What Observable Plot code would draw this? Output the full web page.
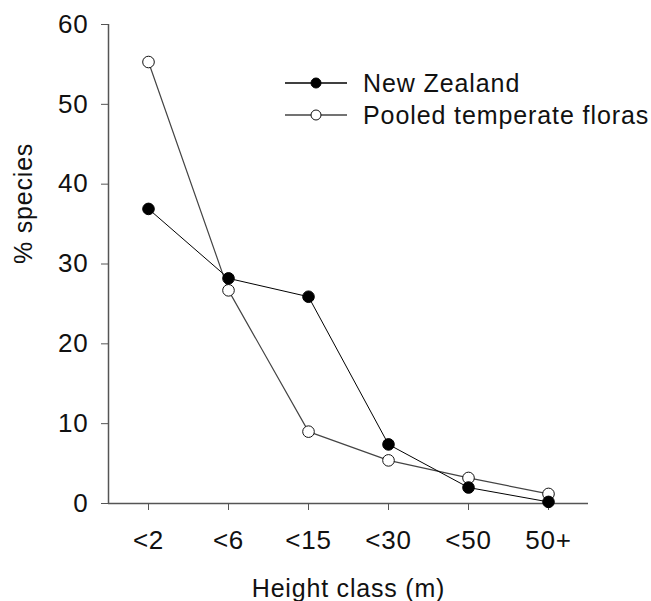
<!DOCTYPE html>
<html><head><meta charset="utf-8">
<script src="https://cdn.jsdelivr.net/npm/d3@7"></script>
<script src="https://cdn.jsdelivr.net/npm/@observablehq/plot@0.6"></script>
<style>
body{margin:0;background:#fff;}
#wrap{position:relative;width:651px;height:601px;font-family:"Liberation Sans",Arial,sans-serif;}
#legend{position:absolute;left:285px;top:67px;font-size:25px;letter-spacing:0.9px;color:#111;}
.row{display:flex;align-items:center;height:32px;}
.row svg{margin-right:16px;}
</style></head><body><div id="wrap"><div id="legend"></div></div>
<script>
const categories = ["<2", "<6", "<15", "<30", "<50", "50+"];
const newZealand = [36.9, 28.2, 25.9, 7.4, 2.0, 0.2];
const pooled = [55.3, 26.7, 9.0, 5.4, 3.2, 1.2];
const yTicks = [0, 10, 20, 30, 40, 50, 60];
const seriesNames = ["New Zealand", "Pooled temperate floras"];
const xLabel = "Height class (m)";
const yLabel = "% species";

const nzRows = categories.map((c, i) => ({series: seriesNames[0], i, cat: c, value: newZealand[i]}));
const pooledRows = categories.map((c, i) => ({series: seriesNames[1], i, cat: c, value: pooled[i]}));

const styles = {
  [seriesNames[0]]: {line: "#000", fill: "#000", stroke: "#000"},
  [seriesNames[1]]: {line: "#444", fill: "#fff", stroke: "#111"}
};

const plot = Plot.plot({
  width: 651, height: 601,
  marginLeft: 108, marginRight: 63, marginTop: 24, marginBottom: 98,
  style: {fontFamily: '"Liberation Sans", Arial, sans-serif', fontSize: "26px", letterSpacing: "0.8px", background: "white", overflow: "visible", color: "#111"},
  x: {domain: [-0.5, categories.length - 0.5]},
  y: {domain: [0, 60]},
  marks: [
    Plot.axisX({ticks: d3.range(categories.length), tickFormat: i => categories[i], tickSize: 7, tickPadding: 20, stroke: "#555", fill: "#111", fontSize: 26, label: null}),
    Plot.axisY({ticks: yTicks, tickSize: 7, tickPadding: 13, stroke: "#555", fill: "#111", fontSize: 26, label: null}),
    Plot.ruleY([0], {stroke: "#555", strokeWidth: 1.5}),
    Plot.ruleX([-0.5], {stroke: "#555", strokeWidth: 1.5}),
    Plot.line(pooledRows, {x: "i", y: "value", stroke: styles[seriesNames[1]].line, strokeWidth: 1.2}),
    Plot.line(nzRows, {x: "i", y: "value", stroke: styles[seriesNames[0]].line, strokeWidth: 1}),
    Plot.dot(pooledRows, {x: "i", y: "value", r: 5.8, fill: styles[seriesNames[1]].fill, stroke: styles[seriesNames[1]].stroke, strokeWidth: 1}),
    Plot.dot(nzRows, {x: "i", y: "value", r: 5.8, fill: styles[seriesNames[0]].fill, stroke: styles[seriesNames[0]].stroke, strokeWidth: 1}),
    Plot.text([xLabel], {frameAnchor: "bottom", dy: 93, fontSize: 25, fill: "#111"}),
    Plot.text([yLabel], {frameAnchor: "left", rotate: -90, dx: -85, fontSize: 25, fill: "#111"})
  ]
});
const wrap = document.getElementById("wrap");
wrap.insertBefore(plot, wrap.firstChild);
plot.style.position = "absolute";
plot.style.left = "0";
plot.style.top = "0";

const legend = document.getElementById("legend");
seriesNames.forEach(name => {
  const s = styles[name];
  const row = document.createElement("div");
  row.className = "row";
  row.innerHTML = `<svg width="62" height="20"><line x1="0" y1="10" x2="62" y2="10" stroke="${s.line}" stroke-width="1.5"/><circle cx="31" cy="10" r="5" fill="${s.fill}" stroke="${s.stroke}" stroke-width="1"/></svg><span>${name}</span>`;
  legend.appendChild(row);
});
</script></body></html>
